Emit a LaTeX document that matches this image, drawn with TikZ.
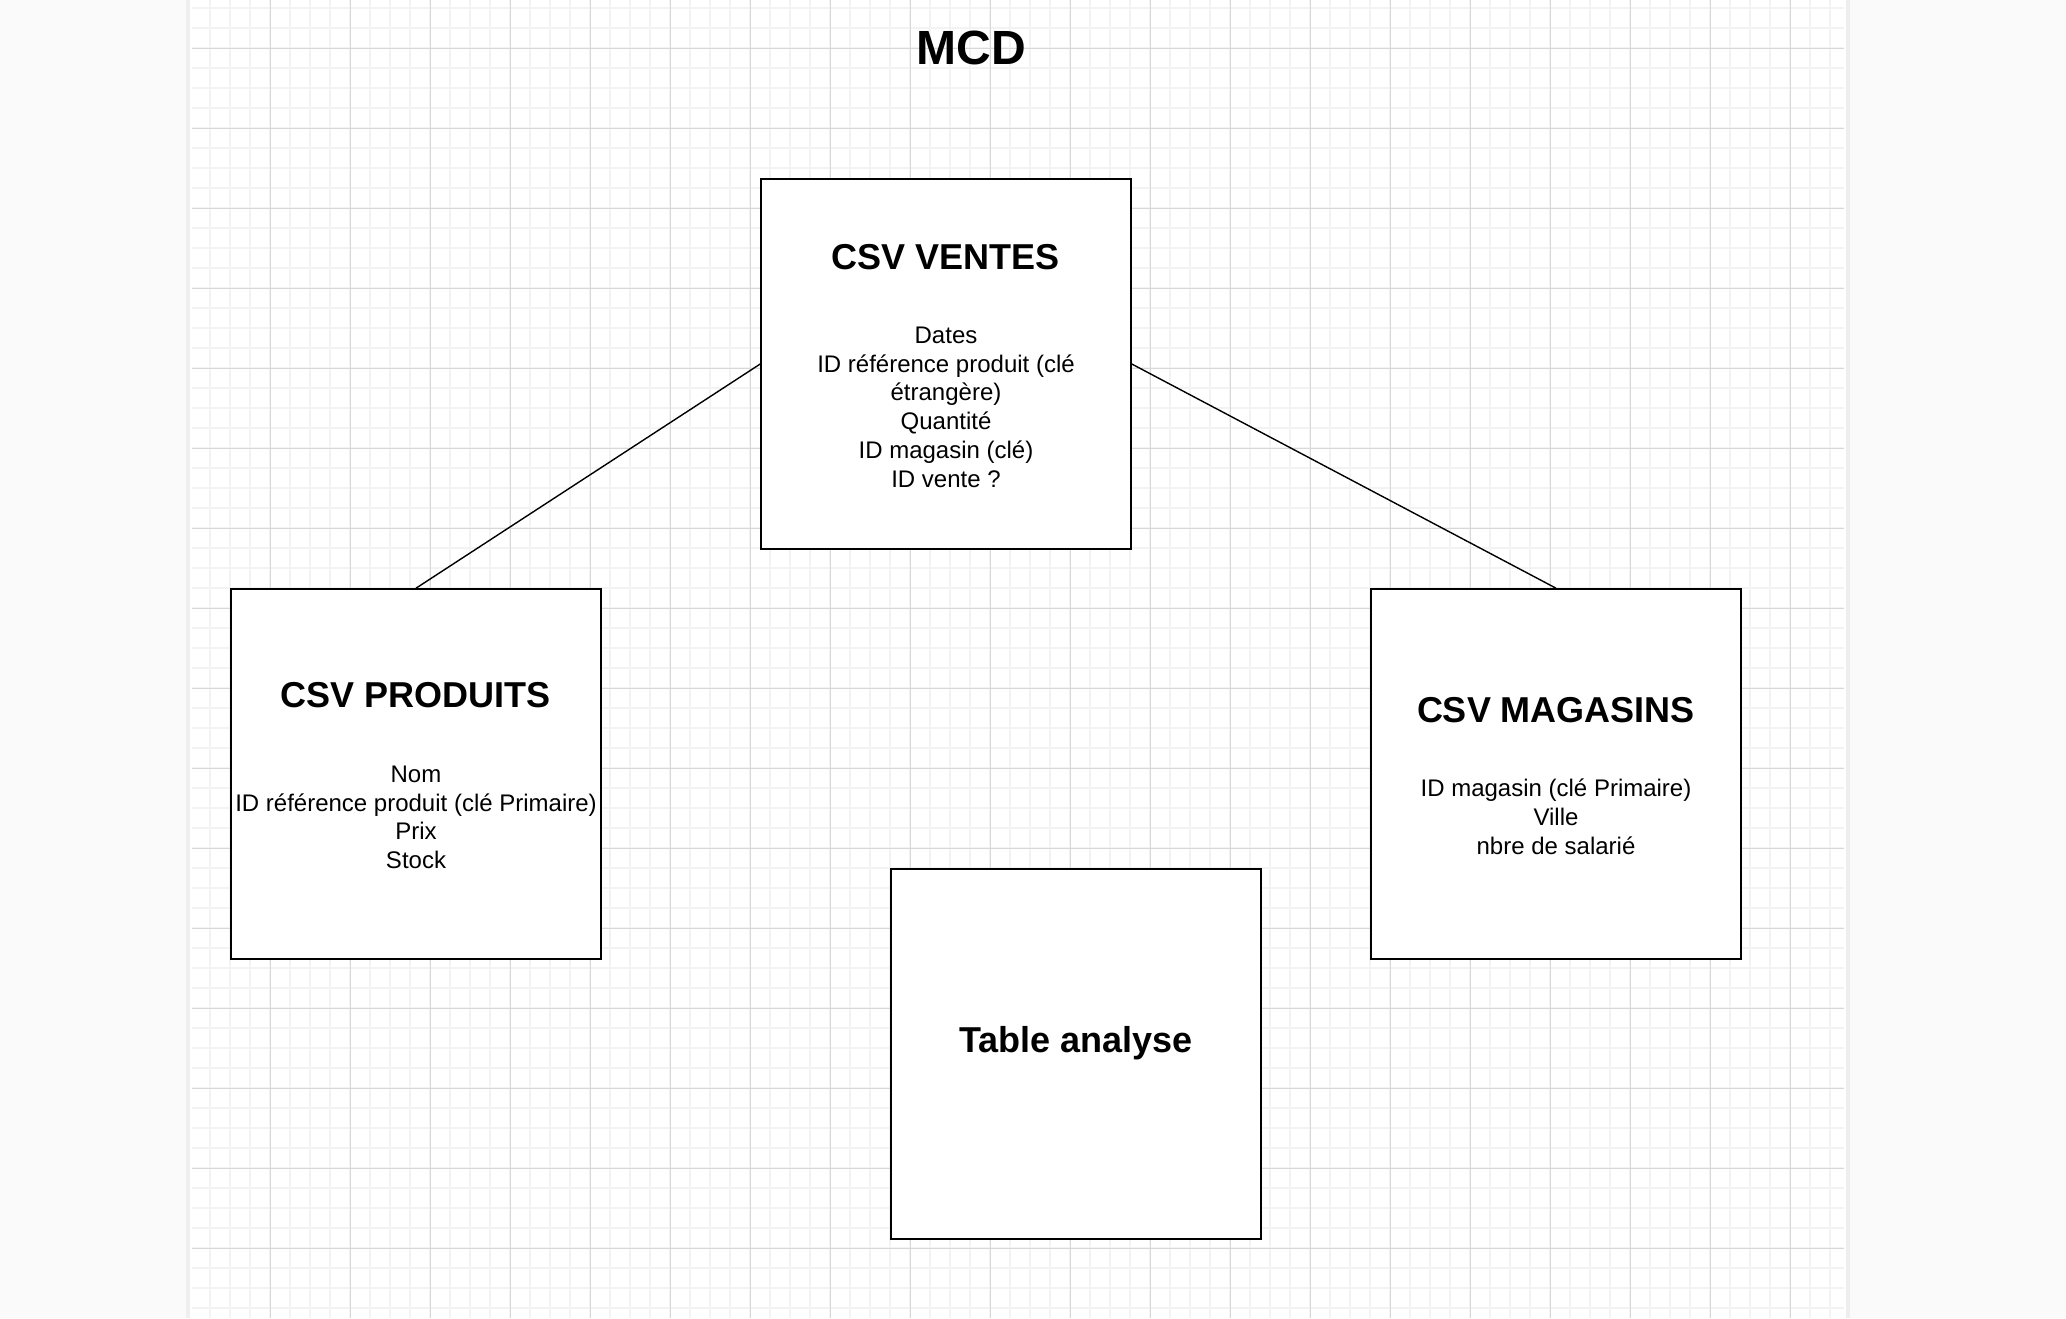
\documentclass[tikz,border=0pt]{standalone}
\usepackage{fontspec}
\setmainfont{Liberation Sans}
\definecolor{canvasbg}{RGB}{250,250,250}
\definecolor{pageshadow}{RGB}{238,238,238}
\definecolor{gridminor}{RGB}{243,243,243}
\definecolor{gridmajor}{RGB}{216,216,216}
\begin{document}
\begin{tikzpicture}[x=1pt,y=-1pt,
  entity/.style={draw=black,line width=1.6pt,fill=white,minimum width=370pt,minimum height=370pt,inner sep=0pt},
  ttl/.style={font=\fontsize{36}{43}\selectfont\bfseries,inner sep=0pt,anchor=base},
  bigttl/.style={font=\fontsize{48}{58}\selectfont\bfseries,inner sep=0pt,anchor=base},
  bodytxt/.style={font=\fontsize{24}{28.8}\selectfont,inner sep=0pt,anchor=base},
  minorgrid/.style={draw=gridminor,line width=1.6pt},
  majorgrid/.style={draw=gridmajor,line width=1pt},
  link/.style={draw=black,line width=1.4pt}]
\useasboundingbox (0,0) rectangle (2066,1318);
% canvas
\fill[canvasbg] (0,0) rectangle (2066,1318);
\fill[pageshadow] (186,0) rectangle (1850,1318);
\fill[white] (190,0) rectangle (1846,1318);
% grid
\foreach \gx in {210,230,...,1830} \draw[minorgrid] (\gx,0) -- (\gx,1318);
\foreach \gy in {8,28,...,1308} \draw[minorgrid] (192,\gy) -- (1844,\gy);
\foreach \gx in {270,350,...,1790} \draw[majorgrid] (\gx,0) -- (\gx,1318);
\foreach \gy in {48,128,...,1288} \draw[majorgrid] (192,\gy) -- (1844,\gy);
% title
\node[bigttl] (mcd) at (971.5,64) {MCD};
% entities
\node[entity] (ventes) at (946,364) {};
\node[entity] (produits) at (416,774) {};
\node[entity] (magasins) at (1556,774) {};
\node[entity] (analyse) at (1076,1054) {};
% connectors
\draw[link] (ventes.west) -- (produits.north);
\draw[link] (ventes.east) -- (magasins.north);
% ventes text
\node[ttl] (ventesT) at (946,269.3) {CSV VENTES};
\node[bodytxt] (ventes1) at (946,343.3) {Dates};
\node[bodytxt] (ventes2) at (946,372.1) {ID référence produit (clé};
\node[bodytxt] (ventes3) at (946,400.9) {étrangère)};
\node[bodytxt] (ventes4) at (946,429.7) {Quantité};
\node[bodytxt] (ventes5) at (946,458.5) {ID magasin (clé)};
\node[bodytxt] (ventes6) at (946,487.3) {ID vente ?};
% produits text
\node[ttl] (produitsT) at (416,707.3) {CSV PRODUITS};
\node[bodytxt] (produits1) at (416,782.3) {Nom};
\node[bodytxt] (produits2) at (416,811.1) {ID référence produit (clé Primaire)};
\node[bodytxt] (produits3) at (416,839.9) {Prix};
\node[bodytxt] (produits4) at (416,868.7) {Stock};
% magasins text
\node[ttl] (magasinsT) at (1556,722.7) {CSV MAGASINS};
\node[bodytxt] (magasins1) at (1556,796.7) {ID magasin (clé Primaire)};
\node[bodytxt] (magasins2) at (1556,825.5) {Ville};
\node[bodytxt] (magasins3) at (1556,854.3) {nbre de salarié};
% analyse text
\node[ttl] (analyseT) at (1076,1052.3) {Table analyse};
\end{tikzpicture}
\end{document}
